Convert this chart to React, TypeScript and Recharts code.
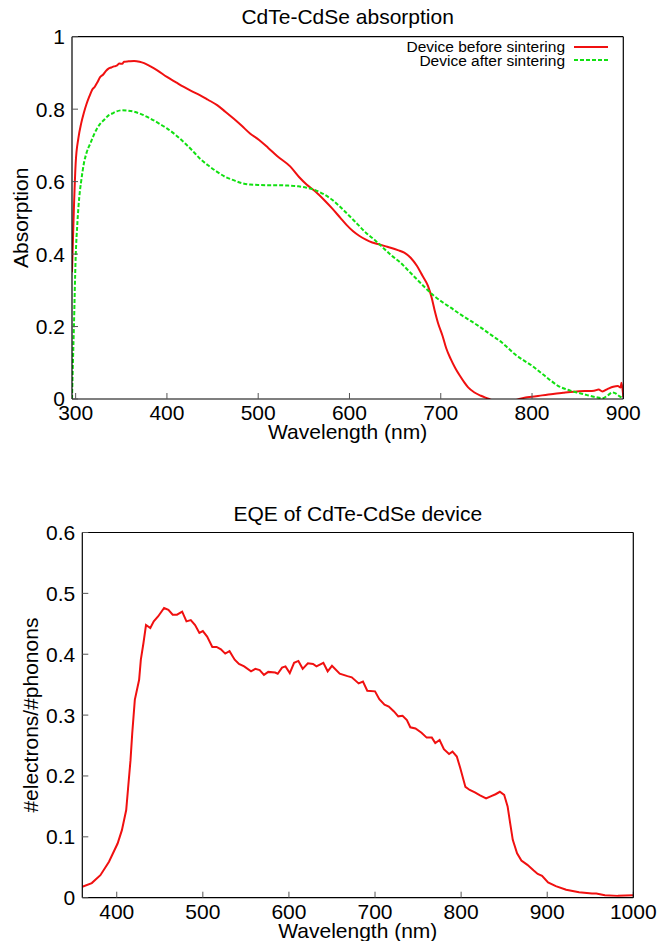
import { LineChart, Line, XAxis, YAxis, Legend } from 'recharts';

// absorption before sintering (red)
const beforeNm = [
  296, 298, 300, 303, 306, 309, 312, 315, 318, 321, 324, 327, 330, 333, 336, 339, 342, 345, 348, 351,
  353, 358, 364, 370, 375, 382, 389, 400, 410, 418, 427, 436, 445, 455, 464, 473, 482, 491, 501, 511,
  521, 535, 545, 553, 563, 572, 581, 590, 597, 604, 611, 618, 625, 632, 639, 646, 653, 660, 667, 674,
  680, 686, 690, 693, 697, 702, 706, 711, 716, 721, 726, 730, 737, 744, 753, 760, 770, 780, 786, 793,
  800, 811, 823, 834, 846, 858, 868, 873, 877, 883, 889, 894, 897, 898, 900,
];
const beforeAbs = [
  0.35, 0.52, 0.65, 0.72, 0.76, 0.79, 0.815, 0.835, 0.853, 0.862, 0.875, 0.889, 0.895, 0.905, 0.912, 0.915, 0.918, 0.92, 0.926, 0.925,
  0.931, 0.932, 0.933, 0.931, 0.927, 0.918, 0.908, 0.889, 0.874, 0.862, 0.85, 0.839, 0.826, 0.811, 0.793, 0.774, 0.754, 0.733, 0.715, 0.693,
  0.67, 0.642, 0.612, 0.592, 0.572, 0.55, 0.526, 0.5, 0.48, 0.463, 0.45, 0.44, 0.432, 0.427, 0.422, 0.417, 0.411, 0.404, 0.39, 0.367,
  0.34, 0.312, 0.28, 0.248, 0.21, 0.174, 0.14, 0.11, 0.085, 0.064, 0.045, 0.032, 0.018, 0.009, 0.0, -0.008, -0.012, -0.005, 0.0, 0.004,
  0.006, 0.01, 0.014, 0.017, 0.02, 0.022, 0.023, 0.026, 0.021, 0.028, 0.034, 0.036, 0.032, 0.045, 0.005,
];

// absorption after sintering (green, dashed)
const afterNm = [
  296, 297, 298, 300, 302, 304, 306, 309, 312, 316, 321, 327, 331, 336, 340, 345, 351, 357, 364, 373,
  382, 391, 400, 409, 418, 427, 436, 445, 455, 464, 473, 482, 491, 500, 511, 521, 533, 544, 553, 563,
  572, 581, 590, 600, 609, 618, 628, 637, 646, 656, 665, 674, 683, 693, 702, 711, 720, 730, 740, 749,
  758, 767, 774, 781, 790, 800, 807, 814, 821, 828, 835, 842, 849, 856, 863, 870, 877, 883, 888, 892,
  895, 898, 900,
];
const afterAbs = [
  0.0, 0.1, 0.19, 0.39, 0.49, 0.558, 0.6, 0.65, 0.68, 0.705, 0.735, 0.76, 0.77, 0.783, 0.788, 0.794, 0.797, 0.796, 0.793, 0.785,
  0.774, 0.761, 0.747, 0.73, 0.71, 0.688, 0.664, 0.645, 0.627, 0.613, 0.604, 0.596, 0.592, 0.591, 0.59, 0.59, 0.589, 0.587, 0.583, 0.576,
  0.565, 0.55, 0.53, 0.505, 0.482, 0.459, 0.438, 0.417, 0.396, 0.376, 0.353, 0.33, 0.307, 0.284, 0.267, 0.252, 0.236, 0.22, 0.204, 0.188,
  0.172, 0.156, 0.14, 0.124, 0.108, 0.092, 0.078, 0.064, 0.05, 0.037, 0.029, 0.023, 0.018, 0.014, 0.009, 0.005, 0.002, 0.01, 0.018, 0.015,
  0.009, 0.004, 0.0,
];

// EQE
const eqeNm = [
  360, 371, 381, 391, 401, 406, 411, 413, 416, 418, 421, 426, 428, 431, 434, 439, 443, 448, 455, 460,
  465, 470, 476, 481, 486, 491, 496, 500, 505, 511, 516, 521, 526, 531, 537, 542, 548, 556, 561, 566,
  571, 576, 584, 587, 592, 596, 601, 606, 611, 616, 622, 628, 632, 640, 645, 650, 659, 668, 673, 681,
  686, 691, 700, 705, 711, 716, 722, 727, 732, 737, 741, 747, 754, 760, 766, 770, 775, 780, 786, 790,
  795, 799, 805, 810, 816, 822, 829, 835, 840, 845, 850, 854, 857, 860, 865, 870, 877, 884, 889, 894,
  901, 910, 922, 937, 952, 957, 967, 982, 1000,
];
const eqeVal = [
  0.018, 0.024, 0.037, 0.059, 0.089, 0.111, 0.144, 0.177, 0.226, 0.27, 0.325, 0.358, 0.391, 0.418, 0.448, 0.443, 0.454, 0.462, 0.476, 0.473,
  0.465, 0.465, 0.47, 0.454, 0.456, 0.448, 0.435, 0.438, 0.429, 0.412, 0.412, 0.408, 0.401, 0.405, 0.391, 0.384, 0.38, 0.372, 0.376, 0.374,
  0.366, 0.371, 0.37, 0.368, 0.378, 0.38, 0.369, 0.386, 0.389, 0.376, 0.385, 0.384, 0.38, 0.386, 0.372, 0.381, 0.368, 0.364, 0.362, 0.352,
  0.355, 0.34, 0.339, 0.326, 0.317, 0.314, 0.306, 0.298, 0.299, 0.292, 0.28, 0.278, 0.271, 0.263, 0.263, 0.254, 0.259, 0.244, 0.236, 0.24,
  0.232, 0.213, 0.182, 0.177, 0.173, 0.168, 0.163, 0.167, 0.17, 0.174, 0.169, 0.15, 0.122, 0.095, 0.073, 0.061, 0.054, 0.045, 0.039, 0.036,
  0.025, 0.019, 0.013, 0.009, 0.007, 0.007, 0.004, 0.003, 0.004,
];

const absXTicks = [300, 400, 500, 600, 700, 800, 900];
const absYTicks = [0, 0.2, 0.4, 0.6, 0.8, 1];
const eqeXTicks = [400, 500, 600, 700, 800, 900, 1000];
const eqeYTicks = [0, 0.1, 0.2, 0.3, 0.4, 0.5, 0.6];

const beforeData = beforeNm.map((nm, i) => ({ nm, value: beforeAbs[i] }));
const afterData = afterNm.map((nm, i) => ({ nm, value: afterAbs[i] }));
const eqeData = eqeNm.map((nm, i) => ({ nm, value: eqeVal[i] }));

const RED = '#f01010';
const GREEN = '#11e011';
const FONT = 21;
const tickStyle = { fill: '#000', fontSize: FONT };
const tickLine = { stroke: '#555' };
const frame = { stroke: '#000', strokeWidth: 1.2 };

const AbsorptionLegend = ({ payload }: { payload?: { value: string; color: string; payload?: { strokeDasharray?: string } }[] }) => (
  <div style={{ fontSize: 15.5, lineHeight: '13.5px', color: '#000' }}>
    {(payload || []).map((p) => (
      <div key={p.value} style={{ display: 'flex', alignItems: 'center', justifyContent: 'flex-end', height: 13.5 }}>
        <span style={{ marginRight: 9, whiteSpace: 'nowrap' }}>{p.value}</span>
        <svg width={34} height={4}>
          <line x1={0} x2={34} y1={2} y2={2} stroke={p.color} strokeWidth={2} strokeDasharray={p.payload?.strokeDasharray} />
        </svg>
      </div>
    ))}
  </div>
);

export default function App() {
  return (
    <div style={{ position: 'absolute', left: 0, top: 0, width: 667, height: 941, background: '#fff', fontFamily: '"Liberation Sans", Arial, sans-serif' }}>
      <div style={{ position: 'absolute', left: 0, top: 0 }}>
        <LineChart width={667} height={460} margin={{ top: 35.7, right: 42.7, bottom: 21, left: 0 }}>
          <XAxis
            xAxisId="b"
            dataKey="nm"
            type="number"
            domain={[296, 900]}
            allowDataOverflow
            ticks={absXTicks}
            interval={0}
            height={40}
            tick={tickStyle}
            tickSize={-6}
            tickMargin={12}
            tickLine={tickLine}
            axisLine={frame}
            label={{ value: 'Wavelength (nm)', position: 'insideBottom', offset: 0, fill: '#000', fontSize: FONT }}
          />
          <XAxis
            xAxisId="t"
            orientation="top"
            dataKey="nm"
            type="number"
            domain={[296, 900]}
            allowDataOverflow
            ticks={absXTicks}
            interval={0}
            height={1}
            tick={false}
            tickSize={-6}
            tickLine={tickLine}
            axisLine={frame}
            label={{ value: 'CdTe-CdSe absorption', position: 'top', offset: 12, fill: '#000', fontSize: FONT }}
          />
          <YAxis
            yAxisId="l"
            type="number"
            domain={[0, 1]}
            allowDataOverflow
            ticks={absYTicks}
            interval={0}
            width={72}
            tick={tickStyle}
            tickSize={-6}
            tickMargin={13}
            tickLine={tickLine}
            axisLine={frame}
            label={{ value: 'Absorption', angle: -90, position: 'insideLeft', offset: 20.5, fill: '#000', fontSize: FONT, style: { textAnchor: 'middle' } }}
          />
          <YAxis
            yAxisId="r"
            orientation="right"
            type="number"
            domain={[0, 1]}
            allowDataOverflow
            ticks={absYTicks}
            interval={0}
            width={1}
            tick={false}
            tickSize={-6}
            tickLine={tickLine}
            axisLine={frame}
          />
          <Legend
            layout="vertical"
            align="center"
            verticalAlign="middle"
            itemSorter="dataKey"
            wrapperStyle={{ top: 40, right: 59, width: 'auto' }}
            content={<AbsorptionLegend />}
          />
          <Line
            xAxisId="b"
            yAxisId="l"
            data={beforeData}
            dataKey="value"
            name="Device before sintering"
            type="monotone"
            stroke={RED}
            strokeWidth={2}
            dot={false}
            isAnimationActive={false}
          />
          <Line
            xAxisId="b"
            yAxisId="l"
            data={afterData}
            dataKey="value"
            name="Device after sintering"
            type="monotone"
            stroke={GREEN}
            strokeWidth={2}
            strokeDasharray="4 2"
            dot={false}
            isAnimationActive={false}
          />
        </LineChart>
      </div>
      <div style={{ position: 'absolute', left: 0, top: 460 }}>
        <LineChart width={667} height={481} data={eqeData} margin={{ top: 71.5, right: 32.7, bottom: 3.3, left: 0 }}>
          <XAxis
            xAxisId="b"
            dataKey="nm"
            type="number"
            domain={[360, 1000]}
            allowDataOverflow
            ticks={eqeXTicks}
            interval={0}
            height={40}
            tick={tickStyle}
            tickSize={-6}
            tickMargin={12}
            tickLine={tickLine}
            axisLine={frame}
            label={{ value: 'Wavelength (nm)', position: 'insideBottom', offset: 0, fill: '#000', fontSize: FONT }}
          />
          <XAxis
            xAxisId="t"
            orientation="top"
            dataKey="nm"
            type="number"
            domain={[360, 1000]}
            allowDataOverflow
            ticks={eqeXTicks}
            interval={0}
            height={1}
            tick={false}
            tickSize={-6}
            tickLine={tickLine}
            axisLine={frame}
            label={{ value: 'EQE of CdTe-CdSe device', position: 'top', offset: 10.5, fill: '#000', fontSize: FONT }}
          />
          <YAxis
            yAxisId="l"
            type="number"
            domain={[0, 0.6]}
            allowDataOverflow
            ticks={eqeYTicks}
            interval={0}
            width={82.3}
            tick={tickStyle}
            tickSize={-6}
            tickMargin={13}
            tickLine={tickLine}
            axisLine={frame}
            label={{ value: '#electrons/#phonons', angle: -90, position: 'insideLeft', offset: 31, fill: '#000', fontSize: FONT, style: { textAnchor: 'middle' } }}
          />
          <YAxis
            yAxisId="r"
            orientation="right"
            type="number"
            domain={[0, 0.6]}
            allowDataOverflow
            ticks={eqeYTicks}
            interval={0}
            width={1}
            tick={false}
            tickSize={-6}
            tickLine={tickLine}
            axisLine={frame}
          />
          <Line
            xAxisId="b"
            yAxisId="l"
            dataKey="value"
            type="linear"
            stroke={RED}
            strokeWidth={2}
            dot={false}
            isAnimationActive={false}
          />
        </LineChart>
      </div>
    </div>
  );
}
